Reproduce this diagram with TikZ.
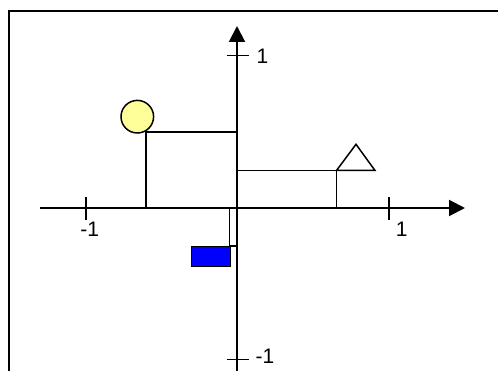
\documentclass[tikz,border=0pt]{standalone}
\usepackage{fontspec}
\setmainfont{Liberation Sans}
\usetikzlibrary{arrows.meta}
\definecolor{paleyellow}{RGB}{255,255,153}
\begin{document}
\begin{tikzpicture}[x=1pt,y=-1pt,
  axis/.style={line width=2pt,-{Triangle[length=16pt,width=16pt]}},
  tickline/.style={line width=1.6pt},
  conline/.style={line width=1.5pt},
  lbl/.style={font=\fontsize{21}{24}\selectfont,inner sep=0pt}]
\useasboundingbox (0,0) rectangle (498,371);
\draw[line width=2.2pt] (8.7,10.7) rectangle (520,400);
% connector coordinates
\coordinate (c0) at (146,208);
\coordinate (c1) at (146,132);
\coordinate (c2) at (237,132);
\coordinate (t0) at (237,170.5);
\coordinate (t1) at (336.5,170.5);
\coordinate (t2) at (336.5,208);
\coordinate (r0) at (229.5,208);
\coordinate (r1) at (229.5,246);
\coordinate (r2) at (237,246);
\draw[conline] (c0) -- (c1) -- (c2);
\draw[conline] (t0) -- (t1) -- (t2);
\draw[conline] (r0) -- (r1) -- (r2);
% shapes
\node[circle,draw,conline,fill=paleyellow,minimum size=32.6pt,inner sep=0pt] (sun) at (137.3,116.7) {};
\coordinate (ta) at (356,144.3);
\coordinate (tl) at (336.5,170.5);
\coordinate (tr) at (375,170.5);
\draw[conline,line join=miter] (tl) -- (ta) -- (tr) -- cycle;
\node[draw,conline,fill=blue,minimum width=38.8pt,minimum height=19.7pt,inner sep=0pt,anchor=north west] (box) at (190.7,246) {};
% axes
\coordinate (xs) at (40,208);
\coordinate (xe) at (465,208);
\coordinate (ys) at (237,375);
\coordinate (ye) at (237,26);
\draw[axis] (xs) -- (xe);
\draw[axis] (ys) -- (ye);
% ticks
\draw[tickline] (85.7,197.5) -- (85.7,220);
\draw[tickline] (389,197.5) -- (389,220);
\draw[tickline] (226.7,55.7) -- (249.3,55.7);
\draw[tickline] (226.7,359.3) -- (249.3,359.3);
% labels
\node[lbl] (lxm) at (89.7,229) {-1};
\node[lbl] (lxp) at (401.7,229) {1};
\node[lbl] (lyp) at (262.5,56) {1};
\node[lbl] (lym) at (265,356) {-1};
\end{tikzpicture}
\end{document}
